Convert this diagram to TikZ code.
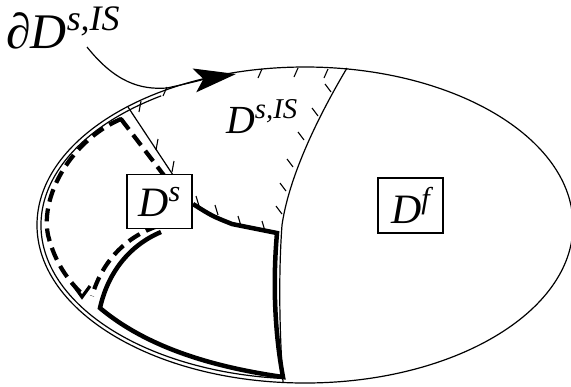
\documentclass[tikz,border=0pt]{standalone}
\usepackage{fontspec}
\newfontfamily\labfont{Liberation Serif}[UprightFont=* Italic]
\usetikzlibrary{arrows.meta,calc}
\newcommand\Lbl[3]{\fontsize{#1}{#1}\labfont #2\raisebox{0.36em}{\fontsize{0.72em}{0.72em}\selectfont #3}}
\begin{document}
\begin{tikzpicture}[x=1bp,y=-1bp,
  thinline/.style={line width=1.2bp},
  thickline/.style={line width=4.5bp},
  dashline/.style={line width=4.2bp,dash pattern=on 13bp off 7bp},
  tickmark/.style={line width=1.1bp},
  labbox/.style={draw,line width=1.1bp,minimum width=65bp,minimum height=54bp,inner sep=0pt}]
\useasboundingbox (0,0) rectangle (571,386);
\coordinate (E) at (305,225);
% outer ellipse
\draw[thinline] (E) ellipse [x radius=268, y radius=158];
% inner parallel thin line on the left
\draw[thinline] ($(E)+(237:264 and 154)$) arc[start angle=237, end angle=95, x radius=264, y radius=154];
% interface
\draw[thinline] (347,68) .. controls (325,105) and (290,170) .. (282,225) .. controls (278,280) and (280,340) .. (283,382);
% thick boundary of D^s
\draw[thickline,line join=miter] (193,204) .. controls (212,216) .. (232,224) -- (277,233)
  .. controls (272,290) and (276,340) .. (283,377)
  .. controls (220,368) and (150,350) .. (100,308)
  .. controls (108,272) and (130,245) .. (161,232);
% dashed lines
\draw[dashline] (158,226) .. controls (125,237) and (102,262) .. (92,296);
\draw[dashline] (121,119) .. controls (72,140) and (40,195) .. (48,235) .. controls (55,263) and (68,280) .. (82,294);
\draw[line width=3.2bp] (72,283) -- (82,297) -- (90,286);
\draw[dashline] (121,119) -- (166,178);
\draw[line width=3.2bp] (110,124) -- (121,119) -- (126,126);
% thin diagonal
\draw[thinline] (128,107) -- (173,175);
% ticks on ellipse top
\foreach \p in {(167,87),(262,69),(298,68),(328,69)}
  \draw[tickmark] \p -- ++(-4,9);
% ticks on interface
\foreach \p in {(331,92),(318,116),(304,140),(293,167),(286,191),(282,214)}
  \draw[tickmark] \p -- ++(-6,-8);
% ticks on lower edge
\foreach \p in {(199,206),(218,215),(241,226),(265,231)}
  \draw[tickmark] \p -- ++(-3,-10);
% ticks on diagonal
\foreach \p in {(139,112),(156,150),(172,172)}
  \draw[tickmark] \p -- ++(2,-11);
% arrow
\draw[thinline,-{Stealth[length=42bp,width=24bp,inset=9bp]}] (87,47) .. controls (115,82) and (140,90) .. (167,88) .. controls (190,83) and (210,78) .. (236,74);
% labels
\node[anchor=base west,inner sep=0pt] (l1) at (6,48) {\Lbl{50}{∂D}{s,IS}};
\node[anchor=base west,inner sep=0pt] (l2) at (226,133) {\Lbl{40}{D}{s,IS}};
\node[labbox,fill=white] (ds) at (159.5,201.5) {\Lbl{42}{D}{s}};
\node[labbox,minimum height=55bp] (df) at (410.5,205.5) {\Lbl{42}{D}{f}};
\end{tikzpicture}
\end{document}
